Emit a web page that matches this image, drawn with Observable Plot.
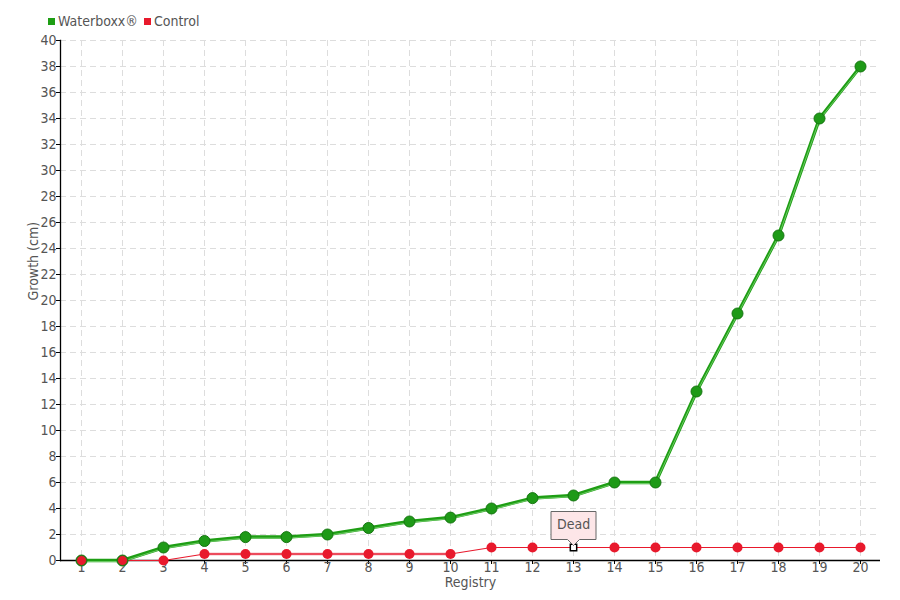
<!DOCTYPE html>
<html>
<head>
<meta charset="utf-8">
<script src="https://cdn.jsdelivr.net/npm/d3@7"></script>
<script src="https://cdn.jsdelivr.net/npm/@observablehq/plot@0.6"></script>
<style>
  html, body { margin: 0; padding: 0; background: #fff; }
  #wrap { position: relative; width: 900px; height: 600px; font-family: "Liberation Sans Narrow", "DejaVu Sans Condensed", sans-serif; }
  #legend { position: absolute; left: 48px; top: 13px; font-size: 14px; color: #555; display: flex; gap: 6px; align-items: center; }
  #legend span.sw { display: inline-block; width: 7px; height: 7px; margin-right: 3px; vertical-align: middle; position: relative; top: -1px; }
  svg g[aria-label="tip"] text { fill: #555; }
</style>
</head>
<body>
<div id="wrap">
  <div id="legend"></div>
  <div id="chart"></div>
</div>
<script>
const registry = d3.range(1, 21);
const waterboxx = [0, 0, 1, 1.5, 1.8, 1.8, 2, 2.5, 3, 3.3, 4, 4.8, 5, 6, 6, 13, 19, 25, 34, 38];
const control = [0, 0, 0, 0.5, 0.5, 0.5, 0.5, 0.5, 0.5, 0.5, 1, 1, 1, 1, 1, 1, 1, 1, 1, 1];
const seriesNames = ["Waterboxx®", "Control"];
const seriesColors = ["#1e9e14", "#e8192c"];
const yTicks = d3.range(0, 41, 2);
const annotationLabel = "Dead";
const annotationIndex = 12; // registry 13

const wData = registry.map((r, i) => ({r, v: waterboxx[i]}));
const cData = registry.map((r, i) => ({r, v: control[i]}));
const deadData = [cData[annotationIndex]];

// legend
const legend = document.getElementById("legend");
seriesNames.forEach((n, i) => {
  const el = document.createElement("span");
  el.innerHTML = `<span class="sw" style="background:${seriesColors[i]}"></span>${n}`;
  legend.appendChild(el);
});

const font = "'Liberation Sans Narrow', 'DejaVu Sans Condensed', sans-serif";
const marks = [
  Plot.gridY(yTicks, {stroke: "#ddd", strokeOpacity: 1, strokeDasharray: "6,4"}),
  Plot.gridX(registry, {stroke: "#ddd", strokeOpacity: 1, strokeDasharray: "6,4"}),
  Plot.axisY(yTicks, {tickSize: 4, tickPadding: 0, fontSize: 14, color: "#555", label: null, stroke: "#000"}),
  Plot.axisX(registry, {tickSize: 4, tickPadding: -2, fontSize: 14, color: "#555", label: null, stroke: "#000"}),
  Plot.ruleY([0], {stroke: "#000", strokeWidth: 1.3}),
  Plot.frame({anchor: "left", stroke: "#000", strokeWidth: 1.3}),
  Plot.text(["Growth (cm)"], {frameAnchor: "left", rotate: -90, dx: -27, fontSize: 14, fill: "#555"}),
  Plot.text(["Registry"], {frameAnchor: "bottom", lineAnchor: "top", dy: 17, fontSize: 14, fill: "#555"}),
  // control line (pink wider part 4-10)
  Plot.line(cData.filter(d => d.r >= 4 && d.r <= 10), {x: "r", y: "v", stroke: "#f07f8c", strokeWidth: 2.5}),
  Plot.line(cData, {x: "r", y: "v", stroke: "#e8192c", strokeWidth: 1.1}),
  // waterboxx line
  Plot.line(wData, {x: "r", y: "v", stroke: "#1e9e14", strokeWidth: 3.5}),
  Plot.line(wData, {x: "r", y: "v", stroke: "#7fd477", strokeWidth: 0.8, dy: 1}),
  Plot.dot(wData, {x: "r", y: "v", r: 5.5, fill: "#1e9a17", stroke: "#157510", strokeWidth: 1}),
  Plot.dot(cData.filter((d, i) => i !== annotationIndex), {x: "r", y: "v", r: 5, fill: "#e8192c", stroke: d => d.r <= 2 ? "#1e7a14" : "none", strokeWidth: 1}),
  Plot.dot(deadData, {x: "r", y: "v", symbol: "square", r: 3.6, fill: "#fff", stroke: "#000", strokeWidth: 1.5})
];
if (Plot.tip) {
  marks.push(Plot.tip(deadData, {x: "r", y: "v", title: () => annotationLabel, anchor: "bottom", fill: "#fde6e8", stroke: "#666", textPadding: 6, fontSize: 14, pathFilter: null, dy: -2}));
}

const chart = Plot.plot({
  width: 900,
  height: 600,
  marginLeft: 60,
  marginRight: 20,
  marginTop: 40,
  marginBottom: 40,
  style: {fontFamily: font, background: "transparent", overflow: "visible"},
  x: {type: "point", domain: registry, padding: 0.5, axis: null},
  y: {domain: [0, 40], axis: null},
  marks
});
document.getElementById("chart").appendChild(chart);
</script>
</body>
</html>
